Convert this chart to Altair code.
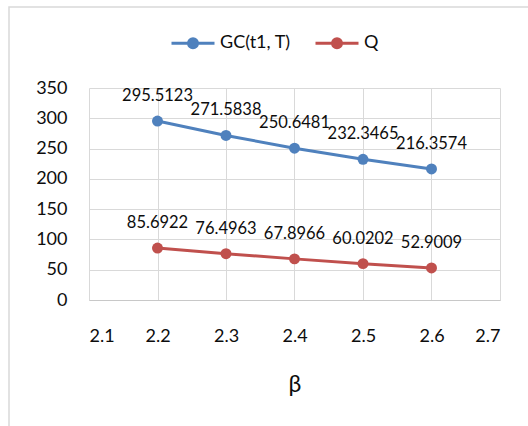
import altair as alt
import pandas as pd

# Values of beta and the two computed series
beta = [2.2, 2.3, 2.4, 2.5, 2.6]
gc_values = [295.5123, 271.5838, 250.6481, 232.3465, 216.3574]
q_values = [85.6922, 76.4963, 67.8966, 60.0202, 52.9009]

series_names = ["GC(t1, T)", "Q"]
series_colors = ["#4F81BD", "#C0504D"]

x_ticks = [2.1, 2.2, 2.3, 2.4, 2.5, 2.6, 2.7]
y_ticks = [0, 50, 100, 150, 200, 250, 300, 350]

rows = []
for name, values in zip(series_names, [gc_values, q_values]):
    for b, v in zip(beta, values):
        rows.append({"beta": b, "series": name, "value": v})
df = pd.DataFrame(rows)

FONT = "Lato"
TEXT = "#0d0d0d"
GRID = "#D9D9D9"

# legend symbol: a short line with a dot in the middle (stroke-only disk)
legend_symbol = (
    "M-1,0H1"
    "M0.07,0A0.07,0.07,0,1,1,-0.07,0A0.07,0.07,0,1,1,0.07,0Z"
    "M0.209,0A0.209,0.209,0,1,1,-0.209,0A0.209,0.209,0,1,1,0.209,0Z"
)

x_enc = alt.X(
    "beta:Q",
    scale=alt.Scale(domain=[2.1, 2.7], nice=False, zero=False),
    axis=alt.Axis(
        values=x_ticks, format=".1f", title="β", grid=True, gridColor=GRID,
        domainColor="#C8C8C8", ticks=False, labelPadding=27,
        labelFont=FONT, labelFontSize=18, labelColor=TEXT,
        titleFont=FONT, titleFontSize=23, titleFontWeight="normal",
        titleColor=TEXT, titlePadding=28,
    ),
)
y_enc = alt.Y(
    "value:Q",
    scale=alt.Scale(domain=[0, 350], nice=False),
    axis=alt.Axis(
        values=y_ticks, title=None, grid=True, gridColor=GRID, domain=False,
        ticks=False, labelPadding=22, labelFont=FONT, labelFontSize=18,
        labelColor=TEXT,
    ),
)
color_scale = alt.Scale(domain=series_names, range=series_colors)

base = alt.Chart(df).encode(x=x_enc, y=y_enc)

lines = base.mark_line(strokeWidth=3).encode(
    color=alt.Color(
        "series:N", scale=color_scale, sort=series_names,
        legend=alt.Legend(
            title=None, orient="none", direction="horizontal",
            legendX=81, legendY=-68,
            symbolType=legend_symbol, symbolSize=1849, symbolStrokeWidth=3,
            labelFont=FONT, labelFontSize=18, labelColor=TEXT,
            labelOffset=4, columnPadding=18,
        ),
    )
)
points = base.mark_point(filled=True, size=120, opacity=1).encode(
    color=alt.Color("series:N", scale=color_scale, legend=None)
)
labels = base.mark_text(
    font=FONT, fontSize=16.5, color=TEXT, baseline="alphabetic", dy=-20
).encode(text=alt.Text("value:Q", format=".4f"))

frame = alt.Chart(alt.Data(values=[{}])).mark_rect(
    fillOpacity=0, stroke=GRID, strokeWidth=1.5
).encode(
    x=alt.value(-80), x2=alt.value(800), y=alt.value(-81), y2=alt.value(800)
)

chart = (
    alt.layer(frame, lines, points, labels)
    .properties(
        width=411, height=212,
        autosize=alt.AutoSizeParams(type="none"),
        padding={"left": 89, "top": 88, "right": 28, "bottom": 126},
        background="white",
    )
    .configure_view(stroke=None)
)

chart.save("out.html", embed_options={"renderer": "svg", "actions": False})
